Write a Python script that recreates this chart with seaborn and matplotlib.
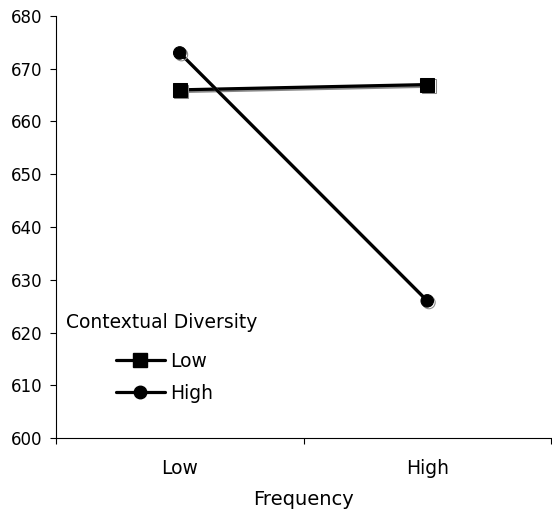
import matplotlib
matplotlib.use('Agg')
import matplotlib.pyplot as plt
import matplotlib.patheffects as pe
from matplotlib.ticker import FixedLocator
from matplotlib.lines import Line2D
import pandas as pd
import seaborn as sns

# data
frequency = ['Low', 'High']
cd_low = [666, 667]
cd_high = [673, 626]
groups = ['Low', 'High']

df = pd.DataFrame({
    'Frequency': frequency * 2,
    'RT': cd_low + cd_high,
    'Contextual Diversity': [groups[0]] * 2 + [groups[1]] * 2,
})

sns.set_style('ticks')
plt.rcParams['font.family'] = ['DejaVu Sans']
plt.rcParams['text.color'] = 'black'
plt.rcParams['xtick.color'] = 'black'
plt.rcParams['ytick.color'] = 'black'
plt.rcParams['axes.labelcolor'] = 'black'

fig = plt.figure(figsize=(5.52, 5.12), dpi=100)
ax = fig.add_axes([56 / 552, 74 / 512, 495 / 552, 422 / 512])

shadow = [pe.SimpleLineShadow(offset=(1.2, -1.2), shadow_color='#888888', alpha=1.0), pe.Normal()]

sns.lineplot(data=df, x='Frequency', y='RT', hue='Contextual Diversity',
             style='Contextual Diversity', markers={'Low': 's', 'High': 'o'},
             dashes=False, palette={'Low': 'black', 'High': 'black'},
             linewidth=2.3, markersize=10, markeredgecolor='black',
             sort=False, ax=ax, legend=False)

for line, ms in zip(ax.lines, [10, 9]):
    line.set_path_effects(shadow)
    line.set_markersize(ms)

ax.set_xlim(-0.5, 1.5)
ax.set_ylim(600, 680)
ax.set_yticks(range(600, 681, 10))
ax.set_xticks([0, 1])
ax.set_xticklabels(frequency)
ax.xaxis.set_minor_locator(FixedLocator([-0.5, 0.5, 1.5]))
ax.tick_params(axis='x', which='major', length=0, pad=15, labelsize=13.5)
ax.tick_params(axis='x', which='minor', length=4, width=0.8, direction='out')
ax.tick_params(axis='y', length=4, width=0.8, direction='out', labelsize=12, pad=6)
ax.set_xlabel('Frequency', fontsize=14, labelpad=9)
ax.set_ylabel('')
sns.despine(ax=ax)
for s in ['left', 'bottom']:
    ax.spines[s].set_linewidth(0.8)
    ax.spines[s].set_color('black')

# legend
ax.text(10 / 495, (438 - 322) / 422, 'Contextual Diversity', transform=ax.transAxes,
        fontsize=13.5, va='center', ha='left')
handles = [Line2D([], [], color='black', lw=2.3, marker='s', markersize=10),
           Line2D([], [], color='black', lw=2.3, marker='o', markersize=9)]
ax.legend(handles, groups, loc='upper left', bbox_to_anchor=(60 / 495, (438 - 352) / 422),
          frameon=False, fontsize=13.5, handlelength=2.6, handletextpad=0.3,
          labelspacing=0.68, borderpad=0, borderaxespad=0)

fig.savefig('out.png', dpi=100)
